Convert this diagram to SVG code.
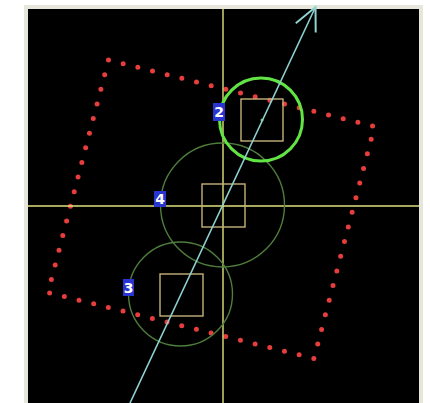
<svg xmlns="http://www.w3.org/2000/svg" width="430" height="403" viewBox="0 0 430 403">
  <defs>
    <style>
      .axis { stroke: #e2e27c; stroke-width: 1.4; fill: none; }
      .sq { stroke: #c4b27a; stroke-width: 1.4; fill: none; }
      .dim { stroke: #4e7d3c; stroke-width: 1.4; fill: none; }
      .bright { stroke: #62e444; stroke-width: 3; fill: none; }
      .tag { fill: #2a34d0; }
      .tagtxt { fill: #ffffff; font-family: "DejaVu Sans", "Liberation Sans", sans-serif; font-weight: bold; font-size: 14px; text-anchor: middle; }
      .dots { fill: none; stroke: #e63c3c; stroke-width: 5; stroke-linecap: round; stroke-dasharray: 0 1; }
      .ray { stroke: #8fd2d2; stroke-width: 1.6; fill: none; }
    </style>
    <filter id="soft" x="-5%" y="-5%" width="110%" height="110%">
      <feGaussianBlur stdDeviation="0.6"/>
    </filter>
    <marker id="arrow" viewBox="-26 -14 28 28" refX="0" refY="0" markerWidth="28" markerHeight="28" markerUnits="userSpaceOnUse" orient="auto">
      <path d="M -23 -11 L 0 0 L -23 11" fill="none" stroke="#8fd2d2" stroke-width="2"/>
    </marker>
  </defs>

  <rect x="0" y="0" width="430" height="403" fill="#ffffff"/>
  <rect x="24" y="5" width="399" height="398" fill="#e6e6da"/>
  <rect x="28" y="9" width="391" height="394" fill="#000000"/>

  <g id="boundary" filter="url(#soft)">
    <path class="dots" pathLength="68" d="M 108.5 60 L 374.5 126.5 L 314 358.5 L 48 292.5 Z"/>
  </g>

  <g id="axes">
    <line class="axis" x1="223" y1="9" x2="223" y2="403"/>
    <line class="axis" x1="28" y1="206" x2="419" y2="206"/>
  </g>

  <g id="node-4">
    <circle class="dim" cx="222.5" cy="205" r="62"/>
    <rect class="sq" x="202" y="184" width="43" height="43"/>
    <rect class="tag" x="154" y="191" width="12" height="16"/>
    <text class="tagtxt" x="160" y="204">4</text>
  </g>

  <g id="node-3">
    <circle class="dim" cx="180.5" cy="294" r="52"/>
    <rect class="sq" x="160" y="274" width="43" height="42"/>
    <rect class="tag" x="123" y="279" width="11" height="17"/>
    <text class="tagtxt" x="128.5" y="292.5">3</text>
  </g>

  <g id="node-2">
    <circle class="bright" cx="261" cy="119.5" r="41.5"/>
    <rect class="sq" x="241" y="99" width="42" height="42"/>
    <circle cx="262" cy="120" r="1.5" fill="#7fbf7f"/>
    <rect class="tag" x="213" y="103" width="12" height="18"/>
    <text class="tagtxt" x="219" y="117">2</text>
  </g>

  <g id="connectors">
    <line class="ray" x1="130" y1="403" x2="315.5" y2="7" marker-end="url(#arrow)"/>
  </g>
</svg>
